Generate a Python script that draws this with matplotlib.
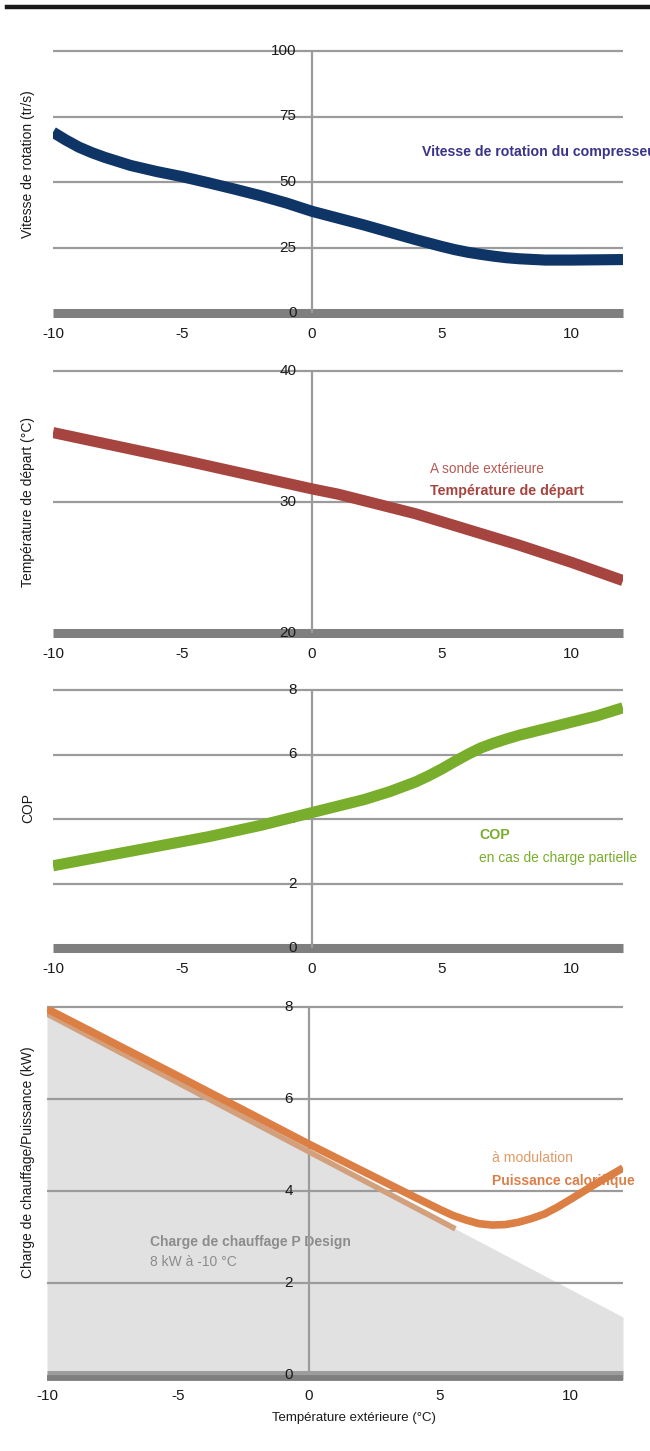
import matplotlib
matplotlib.use("Agg")
import matplotlib.pyplot as plt
import matplotlib.transforms as mtransforms
from matplotlib.lines import Line2D
import numpy as np

plt.rcParams['font.family'] = ['Liberation Sans', 'DejaVu Sans']

# Outdoor temperature axis
x_ticks = [-10, -5, 0, 5, 10]

# Compressor speed (tr/s)
speed_x = [-10, -9.5, -9, -8.5, -8, -7, -6, -5, -4, -3, -2, -1, 0, 1, 2, 3, 4, 5, 5.5, 6,
           6.5, 7, 7.5, 8, 9, 10, 11, 12]
speed_y = [69.0, 66.0, 63.3, 61.2, 59.4, 56.3, 54.0, 52.0, 49.7, 47.3, 44.8, 42.0, 38.8,
           36.2, 33.6, 30.8, 28.0, 25.4, 24.2, 23.2, 22.4, 21.7, 21.1, 20.7, 20.2, 20.2,
           20.3, 20.4]
speed_ticks = [0, 25, 50, 75, 100]

# Flow temperature (°C)
flow_x = [-10, -5, 0, 1, 2, 3, 4, 5, 6, 7, 8, 10, 12]
flow_y = [35.3, 33.2, 31.0, 30.6, 30.1, 29.6, 29.1, 28.5, 27.9, 27.3, 26.7, 25.4, 24.0]
flow_ticks = [20, 30, 40]

# COP at part load
cop_x = [-10, -8, -6, -4, -2, 0, 1, 2, 3, 4, 4.5, 5, 5.5, 6, 6.5, 7, 7.5, 8, 9, 10, 11, 12]
cop_y = [2.55, 2.85, 3.15, 3.45, 3.8, 4.2, 4.4, 4.6, 4.85, 5.15, 5.34, 5.55, 5.78, 6.0,
         6.2, 6.35, 6.48, 6.6, 6.8, 7.0, 7.2, 7.45]
cop_ticks = [0, 2, 4, 6, 8]

# Heating load (P design) and modulating heat output (kW)
load_x = [-10, 12]
load_y = [7.85, 1.26]
power_x = [-10, -5, 0, 2, 4, 5, 5.5, 6, 6.5, 7, 7.5, 8, 8.5, 9, 9.5, 10, 11, 12]
power_y = [7.96, 6.5, 5.02, 4.45, 3.88, 3.6, 3.47, 3.37, 3.29, 3.26, 3.27, 3.32, 3.4,
           3.5, 3.65, 3.82, 4.17, 4.5]
power_ticks = [0, 2, 4, 6, 8]

W, H = 650, 1451
fig = plt.figure(figsize=(W / 100, H / 100), dpi=100)

GRID = '#9b9b9b'
BAND = '#7f7f7f'
TXT = '#1a1a1a'


def make_axes(left_px, right_px, top_px, bottom_px):
    return fig.add_axes([left_px / W, 1 - bottom_px / H,
                         (right_px - left_px) / W, (bottom_px - top_px) / H])


def style(ax, ticks, ylabel, ylabel_y, band=True):
    ax.set_xlim(-10, 12)
    ax.set_ylim(ticks[0], ticks[-1])
    for s in ax.spines.values():
        s.set_visible(False)
    ax.set_yticks([])
    ax.patch.set_alpha(0)
    for t in ticks[1:]:
        ax.axhline(t, color=GRID, lw=1.6, zorder=1, clip_on=False, solid_capstyle='butt')
    if band:
        ax.axhline(ticks[0], color=BAND, lw=6.5, zorder=1, clip_on=False,
                   solid_capstyle='butt')
    ax.axvline(0, color=GRID, lw=1.6, zorder=1, clip_on=False, solid_capstyle='butt')
    for t in ticks:
        ax.text(-0.6, t, str(t), ha='right', va='center', fontsize=11,
                color=TXT, zorder=2, clip_on=False)
    ax.set_xticks(x_ticks)
    ax.set_xticklabels([str(v) for v in x_ticks])
    ax.tick_params(axis='x', length=0, pad=10, labelsize=11, labelcolor=TXT)
    fig.text(28 / W, 1 - ylabel_y / H, ylabel, rotation=90, ha='center', va='center',
             fontsize=10, color=TXT)


def curve(ax, xs, ys, color, lw):
    ax.plot(xs, ys, color=color, lw=lw, solid_capstyle='butt',
            solid_joinstyle='round', zorder=3)


# Top rule
fig.add_artist(Line2D([7 / W, 1.0], [1 - 7 / H, 1 - 7 / H], color='#1a1a1a', lw=3.2))

# Panel 1: compressor speed
ax1 = make_axes(53, 623, 51, 313)
style(ax1, speed_ticks, 'Vitesse de rotation (tr/s)', 164)
curve(ax1, speed_x, speed_y, '#0f3566', 8)
ax1.text(4.25, 61.5, 'Vitesse de rotation du compresseur', color='#3b338a',
         fontsize=10.2, fontweight='bold', ha='left', va='center', clip_on=False)

# Panel 2: flow temperature
ax2 = make_axes(53, 623, 371, 633)
style(ax2, flow_ticks, 'Température de départ (°C)', 502)
curve(ax2, flow_x, flow_y, '#a6453f', 8)
ax2.text(4.55, 32.5, 'A sonde extérieure', color='#b85a54', fontsize=9.8,
         ha='left', va='center')
ax2.text(4.55, 30.84, 'Température de départ', color='#a6453f', fontsize=10.3,
         fontweight='bold', ha='left', va='center')

# Panel 3: COP
ax3 = make_axes(53, 623, 690, 948)
style(ax3, cop_ticks, 'COP', 808)
curve(ax3, cop_x, cop_y, '#79ad2c', 8)
ax3.text(6.45, 3.5, 'COP', color='#79ad2c', fontsize=10.2, fontweight='bold',
         ha='left', va='center')
ax3.text(6.45, 2.79, 'en cas de charge partielle', color='#79ad2c', fontsize=9.9,
         ha='left', va='center')

# Panel 4: heating load and heat output
ax4 = make_axes(47, 623, 1007, 1375)
ax4.fill_between(load_x, 0, load_y, color='#e1e1e1', lw=0, zorder=0)
style(ax4, power_ticks, 'Charge de chauffage/Puissance (kW)', 1162, band=False)
# two-tone base band
ax4.axhline(0, color='#9d9d9d', lw=6.5, zorder=1, clip_on=False, solid_capstyle='butt')
shift = mtransforms.offset_copy(ax4.get_yaxis_transform(), fig=fig, x=0, y=-2.5,
                                units='dots')
ax4.plot([0, 1], [0, 0], transform=shift, color=BAND, lw=4.2, zorder=1.1,
         clip_on=False, solid_capstyle='butt')
ax4.text(-6.07, 2.89, 'Charge de chauffage P Design', color='#8c8c8c', fontsize=10,
         fontweight='bold', ha='left', va='center', zorder=0.5)
ax4.text(-6.07, 2.46, '8 kW à -10 °C', color='#8c8c8c', fontsize=10,
         ha='left', va='center', zorder=0.5)
ax4.text(6.98, 4.72, 'à modulation', color='#e39a66', fontsize=10.1,
         ha='left', va='center', zorder=0.5)
ax4.text(6.98, 4.22, 'Puissance calorifique', color='#d9804a', fontsize=10,
         fontweight='bold', ha='left', va='center', zorder=0.5)
# load edge highlighted only where the heat output follows the load
edge_x = [load_x[0], 5.6]
edge_y = list(np.interp(edge_x, load_x, load_y))
ax4.plot(edge_x, edge_y, color='#d3a07e', lw=4, solid_capstyle='butt', zorder=2)
curve(ax4, power_x, power_y, '#dc7f45', 5.5)
fig.text(354 / W, 1 - 1418 / H, 'Température extérieure (°C)', ha='center', va='center',
         fontsize=9.5, color=TXT)

fig.savefig('out.png', dpi=100)
